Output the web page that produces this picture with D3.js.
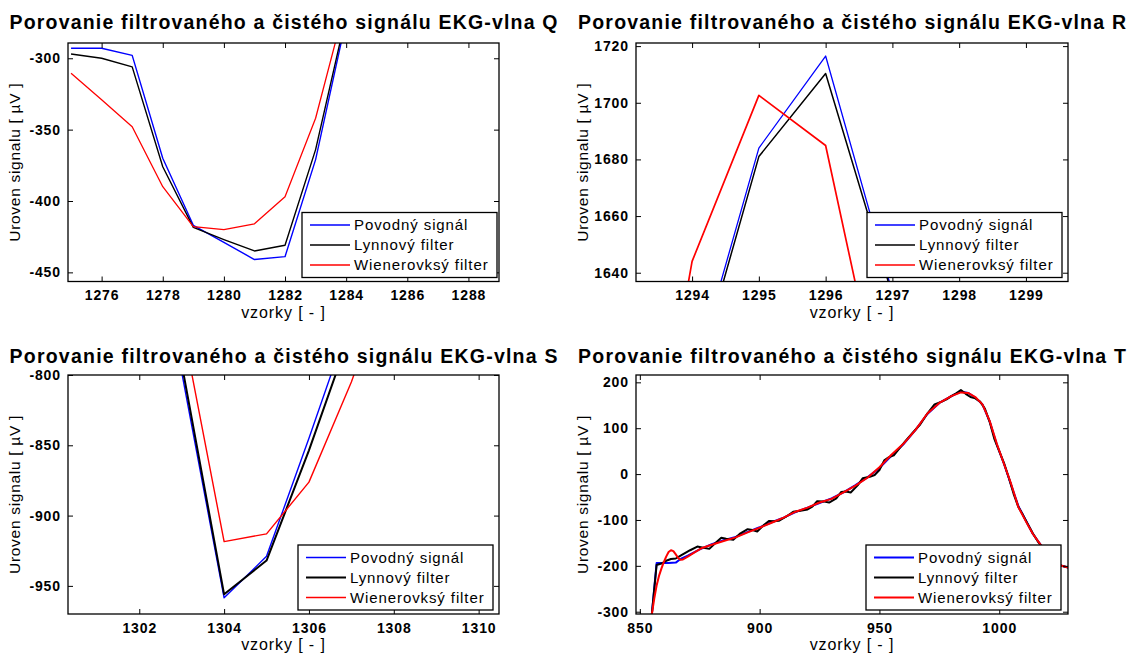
<!DOCTYPE html>
<html>
<head>
<meta charset="utf-8">
<script src="https://cdn.jsdelivr.net/npm/d3@7"></script>
<style>
  body { margin: 0; background: #fff; }
  svg { display: block; font-family: "Liberation Sans", Arial, sans-serif; }
</style>
</head>
<body>
<script>
const seriesNames = ["Povodný signál", "Lynnový filter", "Wienerovksý filter"];
const seriesColors = ["#0000ff", "#000000", "#ff0000"];
const titlePrefix = "Porovanie filtrovaného a čistého signálu EKG-vlna ";

// Q wave
const qSamples = [1275, 1276, 1277, 1278, 1279, 1280, 1281, 1282, 1283, 1284];
const qPovodny = [-293, -293, -298, -370, -417, -429, -441, -439, -371, -273];
const qLynn = [-297, -300, -306, -376, -418.5, -427, -435, -431, -364, -270];
const qWiener = [-310.5, -329, -348, -390, -418, -420, -416, -397, -342, -260];
const qTicksX = [1276, 1278, 1280, 1282, 1284, 1286, 1288];
const qTicksY = [-450, -400, -350, -300];

// R wave
const rSamples = [1293, 1294, 1295, 1296, 1297, 1298];
const rPovodny = [1520, 1601, 1684, 1716.5, 1633, 1500];
const rLynn = [1520, 1598, 1681, 1710.3, 1632, 1500];
const rWiener = [1511, 1644, 1702.6, 1684.9, 1576, 1450];
const rTicksX = [1294, 1295, 1296, 1297, 1298, 1299];
const rTicksY = [1640, 1660, 1680, 1700, 1720];

// S wave
const sSamples = [1302, 1303, 1304, 1305, 1306, 1307, 1308];
const sPovodny = [-640, -798, -958.5, -929, -845, -758, -650];
const sLynn = [-630, -792, -956, -932, -853.6, -768, -660];
const sWiener = [-600, -762, -918.5, -913, -876.2, -805, -720];
const sTicksX = [1302, 1304, 1306, 1308, 1310];
const sTicksY = [-950, -900, -850, -800];

// T wave
const tSamplesPovodny = [855, 857, 862, 865, 867, 870, 875, 880, 885, 890, 895, 900, 905, 910, 915, 920,
  925, 930, 935, 940, 945, 950, 955, 960, 965, 970, 975, 980, 984, 987, 990, 993, 996, 999, 1002, 1005,
  1008, 1011, 1014, 1017, 1020, 1023, 1026, 1029];
const tPovodny = [-306, -194, -194, -193, -185, -178, -164, -153, -144, -137, -126, -116, -105, -95, -83, -73,
  -63, -53, -40, -24, -7, 13, 40, 65, 96, 131, 155, 170, 180, 177, 167, 152, 115, 64, 22, -24,
  -70, -100, -130, -152, -172, -190, -200, -204];
const tSamplesLynn = [855, 857, 859, 861, 863, 865, 867, 869, 871, 874, 876, 879, 882, 884, 886, 889, 892, 895,
  897, 899, 902, 904, 906, 908, 911, 914, 917, 920, 922, 924, 927, 929, 932, 934, 936, 938, 941, 943, 946, 948,
  950, 952, 954, 956, 958, 961, 964, 967, 970, 973, 976, 978, 980, 982, 984, 986, 988, 990, 992, 994, 996, 998,
  1000, 1002, 1004, 1006, 1008, 1010, 1012, 1014, 1016, 1018, 1020, 1023, 1026, 1029];
const tLynn = [-306, -198, -195, -189, -185, -184, -178, -172, -166, -158, -160, -163, -148, -139, -141, -143, -129, -120,
  -122, -125, -110, -102, -103, -102, -93, -82, -80, -77, -71, -59, -60, -62, -53, -39, -38, -40, -24, -9, -6, -2,
  9, 30, 37, 41, 54, 73, 91, 108, 132, 152, 158, 163, 170, 176, 183, 175, 168, 165, 158, 143, 114, 76,
  50, 24, -8, -43, -72, -90, -110, -129, -146, -160, -175, -192, -200, -204];
const tSamplesWiener = [855, 856, 857, 858, 859, 860, 861, 862, 863, 864, 865, 866, 867, 868, 870, 873, 876, 880,
  885, 890, 895, 900, 905, 910, 915, 920, 925, 930, 935, 940, 945, 950, 955, 960, 965, 970, 975, 980, 984, 987,
  990, 993, 996, 999, 1002, 1005, 1008, 1011, 1014, 1017, 1020, 1023, 1026, 1029];
const tWiener = [-306, -272, -243, -222, -206, -192, -180, -170, -166, -168, -175, -183, -187, -186, -180, -170, -161, -154,
  -146, -138, -127, -117, -106, -95, -82, -73, -62, -54, -40, -25, -8, 15, 42, 66, 96, 132, 155, 170, 178, 177,
  168, 152, 116, 66, 22, -22, -72, -102, -130, -152, -172, -190, -200, -204];
const tTicksX = [850, 900, 950, 1000];
const tTicksY = [-300, -200, -100, 0, 100, 200];

const cols = [[68, 499], [636, 1068]];
const rows = [[43, 281.5], [375, 614]];
const titleBaselines = [28.5, 363];

const panels = [
  { wave: "Q", col: 0, row: 0, xDomain: [1274.9, 1289], yDomain: [-456.4, -289.3], xTicks: qTicksX, yTicks: qTicksY,
    series: [[qSamples, qPovodny], [qSamples, qLynn], [qSamples, qWiener]], widths: [1.4, 1.4, 1.3], legendRight: 2 },
  { wave: "R", col: 1, row: 0, xDomain: [1293.16, 1299.63], yDomain: [1636.9, 1721.1], xTicks: rTicksX, yTicks: rTicksY,
    series: [[rSamples, rPovodny], [rSamples, rLynn], [rSamples, rWiener]], widths: [1.3, 1.5, 1.7], legendRight: 6 },
  { wave: "S", col: 0, row: 1, xDomain: [1300.32, 1310.48], yDomain: [-970, -800], xTicks: sTicksX, yTicks: sTicksY,
    series: [[sSamples, sPovodny], [sSamples, sLynn], [sSamples, sWiener]], widths: [1.4, 2, 1.4], legendRight: 6 },
  { wave: "T", col: 1, row: 1, xDomain: [848.4, 1028.7], yDomain: [-305, 216], xTicks: tTicksX, yTicks: tTicksY,
    series: [[tSamplesPovodny, tPovodny], [tSamplesLynn, tLynn], [tSamplesWiener, tWiener]], widths: [2, 2, 2], legendRight: 7 }
];

const svg = d3.select("body").append("svg").attr("width", 1127).attr("height", 656);

panels.forEach((p, pi) => {
  const [x0, x1] = cols[p.col];
  const [y0, y1] = rows[p.row];
  const x = d3.scaleLinear().domain(p.xDomain).range([x0, x1]);
  const y = d3.scaleLinear().domain(p.yDomain).range([y1, y0]);
  const g = svg.append("g");

  svg.append("clipPath").attr("id", "clip" + pi)
    .append("rect").attr("x", x0).attr("y", y0).attr("width", x1 - x0).attr("height", y1 - y0);

  const line = d3.line().x(d => x(d[0])).y(d => y(d[1]));
  const plot = g.append("g").attr("clip-path", `url(#clip${pi})`);
  p.series.forEach(([xs, vals], si) => {
    plot.append("path")
      .datum(xs.map((n, i) => [n, vals[i]]))
      .attr("d", line)
      .attr("fill", "none")
      .attr("stroke", seriesColors[si])
      .attr("stroke-width", p.widths[si])
      .attr("stroke-linejoin", "round");
  });

  const fmt = d => String(d);
  const styleAxis = (sel) => {
    sel.select(".domain").remove();
    sel.attr("font-family", null).attr("font-size", null);
    sel.selectAll("line").attr("stroke", "#000");
    sel.selectAll("text").attr("fill", "#000").style("font-size", "14px").style("font-weight", "bold")
      .style("letter-spacing", "0.9px");
  };
  g.append("g").attr("transform", `translate(0,${y1})`)
    .call(d3.axisBottom(x).tickValues(p.xTicks).tickFormat(fmt).tickSize(-5).tickPadding(9)).call(styleAxis);
  g.append("g").attr("transform", `translate(0,${y0})`)
    .call(d3.axisTop(x).tickValues(p.xTicks).tickFormat("").tickSize(-5)).call(styleAxis);
  g.append("g").attr("transform", `translate(${x0},0)`)
    .call(d3.axisLeft(y).tickValues(p.yTicks).tickFormat(fmt).tickSize(-5).tickPadding(7)).call(styleAxis);
  g.append("g").attr("transform", `translate(${x1},0)`)
    .call(d3.axisRight(y).tickValues(p.yTicks).tickFormat("").tickSize(-5)).call(styleAxis);

  g.append("rect").attr("x", x0).attr("y", y0).attr("width", x1 - x0).attr("height", y1 - y0)
    .attr("fill", "none").attr("stroke", "#000").attr("stroke-width", 1.3);

  // legend
  const lw = 195, lh = 65;
  const lx = x1 - p.legendRight - lw, ly = y1 - 4 - lh;
  const leg = g.append("g").attr("transform", `translate(${lx},${ly})`);
  leg.append("rect").attr("width", lw).attr("height", lh).attr("fill", "#fff").attr("stroke", "#000").attr("stroke-width", 1.3);
  seriesNames.forEach((name, si) => {
    const cy = 12.5 + si * 20;
    leg.append("line").attr("x1", 8).attr("x2", 48).attr("y1", cy).attr("y2", cy)
      .attr("stroke", seriesColors[si]).attr("stroke-width", p.widths[si]);
    leg.append("text").attr("x", 52).attr("y", cy).attr("dy", "0.35em")
      .style("font-size", "15px").style("letter-spacing", "0.9px").text(name);
  });

  // titles and labels
  const cx = (x0 + x1) / 2;
  g.append("text").attr("x", cx).attr("y", titleBaselines[p.row]).attr("text-anchor", "middle")
    .attr("textLength", 548).attr("lengthAdjust", "spacing")
    .style("font-size", "19.5px").style("font-weight", "bold").text(titlePrefix + p.wave);
  g.append("text").attr("x", cx).attr("y", y1 + 36).attr("text-anchor", "middle")
    .style("font-size", "16px").style("letter-spacing", "0.9px").text("vzorky [ - ]");
  g.append("text").attr("transform", `translate(${x0 - 48},${(y0 + y1) / 2}) rotate(-90)`)
    .attr("text-anchor", "middle").style("font-size", "15.5px").style("letter-spacing", "0.7px")
    .text("Uroven signalu [ µV ]");
});
</script>
</body>
</html>
